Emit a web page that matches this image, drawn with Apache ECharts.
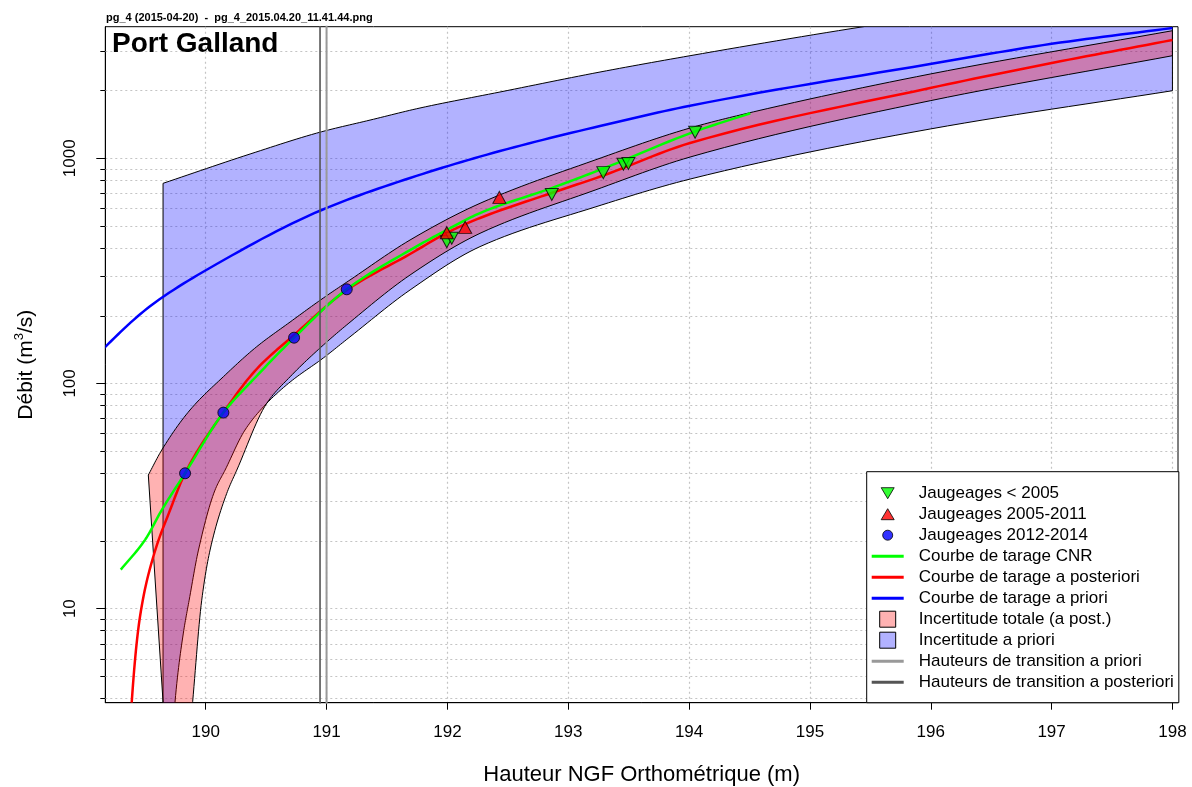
<!DOCTYPE html>
<html><head><meta charset="utf-8">
<script src="https://cdn.jsdelivr.net/npm/echarts@6/dist/echarts.min.js"></script>
<style>html,body{margin:0;padding:0;background:#fff}#c{width:1192px;height:787px}</style>
</head><body><div id="c"></div>
<script>
const FONT = '"Liberation Sans", Arial, Helvetica, sans-serif';

// ---- axes / ticks ----
const xTicks = [190, 191, 192, 193, 194, 195, 196, 197, 198];
const yTicks = [10, 100, 1000];
const yMinorGrid = [4,5,6,7,8,9,20,30,40,50,60,70,80,90,200,300,400,500,600,700,800,900,2000,3000];
const xMin = 189.169, xMax = 198.046, yMin = 3.822, yMax = 3837;

// ---- gaugings (h [m], Q [m3/s]) ----
const gaugingsBefore2005 = [[191.995,426],[192.036,441],[192.864,690],[193.290,863],[193.457,940],[193.498,948],[194.050,1305]];
const gaugings2005_2011 = [[191.995,467],[192.147,493],[192.430,670]];
const gaugings2012_2014 = [[189.829,39.9],[190.146,74.2],[190.731,159.6],[191.167,261.8]];

// ---- rating curves ----
const curveCNR = [[189.297,14.9],[189.498,20.2],[189.636,27.4],[189.829,39.9],[190.146,74.2],[190.422,107.9],[190.731,159.6],[191.167,261.8],[191.691,391],[191.994,480],[192.270,571],[192.863,737],[193.290,900],[194.050,1315],[194.507,1583]];
const curvePosterior = [[189.365,2.14],[189.388,3.86],[189.456,9.2],[189.566,17.0],[189.705,27.4],[189.829,39.9],[190.146,74.2],[190.422,115.9],[190.731,164],[191.167,259.8],[191.691,375.5],[191.994,465.6],[192.270,542.7],[192.863,701],[193.290,838],[194.008,1168],[195.995,2050],[197.001,2647],[198.0,3349]];
const curvePrior = [[189.1,133],[189.167,145],[189.539,220],[190.091,339],[190.960,589],[191.691,817],[192.435,1076],[193.263,1390],[194.008,1710],[195.995,2620],[197.0,3220],[198.0,3786]];

// ---- uncertainty envelopes ----
const postUpper = [[189.525,39.2],[189.636,50.6],[189.870,76.2],[190.146,107.1],[190.422,145.6],[190.698,187.3],[190.973,239.4],[191.194,288],[191.691,433.4],[192.270,630.6],[193.222,982],[194.008,1362],[194.422,1555],[195.995,2365],[198.0,3683]];
const postLower = [[189.753,0.51],[189.892,3.86],[189.967,10.9],[190.036,18.2],[190.174,32.5],[190.257,41.2],[190.505,81.6],[190.698,107],[190.973,148],[191.194,187],[191.691,303],[192.270,464],[193.222,722],[194.008,1012],[195.995,1800],[198.0,2852]];
const priorUpper = [[189.647,773.6],[190.367,1044],[190.960,1311],[191.360,1477],[191.773,1671],[192.435,1968],[193.263,2414],[194.008,2852],[195.442,3837],[198.0,6085]];
const priorLower = [[189.647,0.5],[189.700,1.5],[189.746,3.85],[189.815,7.79],[189.863,10.9],[189.940,18.2],[190.077,33.6],[190.160,41.2],[190.325,62.1],[190.505,81.6],[190.698,101.4],[190.973,129.7],[191.194,161],[191.691,260],[192.270,405],[193.222,607],[194.008,808],[195.995,1348],[198.0,1994]];

// ---- transition heights ----
const transitionPrior = [191.0];
const transitionPosterior = [190.946];

const TRI_DOWN = 'path://M0,0M16,16M1.5,2.5L14.5,2.5L8,13.5Z';
const TRI_UP = 'path://M0,0M16,16M8,2.5L14.5,13.5L1.5,13.5Z';
const CIRCLE = 'path://M0,0M16,16M3,8A5,5,0,1,1,13,8A5,5,0,1,1,3,8Z';
const LINE = 'path://M0,0L32,0L32,3L0,3Z';
const SQUARE = 'path://M0,0L16,0L16,16L0,16Z';

// monotone cubic smoothing of an already-projected pixel polyline (render-time only)
function smoothPx(pts, n) {
  const m = pts.length;
  if (m < 3) return pts.slice();
  const dx = [], s = [], t = [];
  for (let i = 0; i < m - 1; i++) {
    dx[i] = pts[i + 1][0] - pts[i][0];
    s[i] = (pts[i + 1][1] - pts[i][1]) / dx[i];
  }
  t[0] = s[0]; t[m - 1] = s[m - 2];
  for (let i = 1; i < m - 1; i++) {
    if (s[i - 1] * s[i] <= 0) t[i] = 0;
    else {
      const w1 = 2 * dx[i] + dx[i - 1], w2 = dx[i] + 2 * dx[i - 1];
      t[i] = (w1 + w2) / (w1 / s[i - 1] + w2 / s[i]);
    }
  }
  const out = [];
  for (let i = 0; i < m - 1; i++) {
    const x0 = pts[i][0], y0 = pts[i][1], y1 = pts[i + 1][1], h = dx[i];
    for (let k = 0; k < n; k++) {
      const u = k / n, u2 = u * u, u3 = u2 * u;
      const h00 = 2 * u3 - 3 * u2 + 1, h10 = u3 - 2 * u2 + u, h01 = -2 * u3 + 3 * u2, h11 = u3 - u2;
      out.push([x0 + u * h, h00 * y0 + h10 * h * t[i] + h01 * y1 + h11 * h * t[i + 1]]);
    }
  }
  out.push(pts[m - 1].slice());
  return out;
}

function clipRect(cs) {
  return { type: 'rect', shape: { x: cs.x, y: cs.y, width: cs.width, height: cs.height } };
}

function bandSeries(name, upper, lower, fill) {
  const verts = upper.concat(lower.slice().reverse());
  return {
    name, type: 'custom', clip: true, silent: true,
    itemStyle: { color: fill, borderColor: '#000', borderWidth: 1 },
    data: verts,
    encode: { x: 0, y: 1 },
    renderItem(params, api) {
      if (params.dataIndex !== 0) return null;
      const up = smoothPx(upper.map(p => api.coord(p)), 14);
      const lo = smoothPx(lower.map(p => api.coord(p)), 14);
      return {
        type: 'polygon',
        shape: { points: up.concat(lo.reverse()) },
        style: { fill: fill, stroke: '#000', lineWidth: 1 },
        clipPath: clipRect(params.coordSys)
      };
    }
  };
}

function curve(name, data, color) {
  return {
    name, type: 'custom', clip: true, silent: true,
    itemStyle: { color },
    data: data,
    encode: { x: 0, y: 1 },
    renderItem(params, api) {
      if (params.dataIndex !== 0) return null;
      const pts = smoothPx(data.map(p => api.coord(p)), 14);
      return {
        type: 'polyline',
        shape: { points: pts },
        style: { fill: 'none', stroke: color, lineWidth: 2.5, lineJoin: 'round' },
        clipPath: clipRect(params.coordSys)
      };
    }
  };
}

function vline(name, xs, color, width) {
  return {
    name, type: 'line', symbol: 'none', silent: true, clip: true,
    data: [[xs[0], 1], [xs[0], 100000]],
    itemStyle: { color }, lineStyle: { color, width }
  };
}

const isNear = (v, arr) => arr.some(t => Math.abs(v - t) < 1e-6 * Math.max(1, t));

const chart = echarts.init(document.getElementById('c'), null, { renderer: 'canvas' });
chart.setOption({
  animation: false,
  backgroundColor: '#fff',
  textStyle: { fontFamily: FONT },
  title: [
    { text: 'pg_4 (2015-04-20)  -  pg_4_2015.04.20_11.41.44.png', left: 106, top: 12, padding: 0,
      textStyle: { fontSize: 11, fontWeight: 'bold', color: '#000', fontFamily: FONT } },
    { text: 'Port Galland', left: 112, top: 30, padding: 0,
      textStyle: { fontSize: 28, fontWeight: 'bold', color: '#000', fontFamily: FONT } }
  ],
  grid: { left: 105.3, right: 14, top: 26.7, bottom: 84.3, containLabel: false, outerBoundsMode: 'none',
          show: true, borderColor: '#000', borderWidth: 1, backgroundColor: 'transparent' },
  xAxis: {
    type: 'value', min: xMin, max: xMax, splitNumber: 9,
    name: 'Hauteur NGF Orthométrique (m)', nameLocation: 'middle', nameGap: 61,
    nameTextStyle: { fontSize: 22, color: '#000', fontFamily: FONT },
    axisLine: { show: true, onZero: false, lineStyle: { color: '#000', width: 1 } },
    axisTick: { show: true, length: 7, customValues: xTicks, lineStyle: { color: '#000' } },
    axisLabel: { show: true, customValues: xTicks, margin: 21, fontSize: 17, color: '#000', fontFamily: FONT,
      formatter: v => isNear(v, xTicks) ? String(Math.round(v)) : '' },
    splitLine: { show: true, lineStyle: { color: '#c4c4c4', width: 1.2, type: [2, 3] } }
  },
  yAxis: {
    type: 'log', logBase: 10, min: yMin, max: yMax,
    name: '{a|Débit (m}{s|3}{a|/s)}', nameLocation: 'middle', nameGap: 66,
    nameTextStyle: { color: '#000', fontFamily: FONT,
      rich: { a: { fontSize: 21, color: '#000', fontFamily: FONT, lineHeight: 26 },
              s: { fontSize: 13, color: '#000', fontFamily: FONT, verticalAlign: 'top', lineHeight: 16 } } },
    axisLine: { show: true, onZero: false, lineStyle: { color: '#000', width: 1 } },
    axisTick: { show: true, length: 9, customValues: yTicks, lineStyle: { color: '#000' } },
    axisLabel: { show: true, rotate: 90, customValues: yTicks, margin: 26, fontSize: 17, color: '#000', fontFamily: FONT,
      formatter: v => isNear(v, yTicks) ? String(Math.round(v)) : '' },
    splitLine: { show: true, lineStyle: { color: '#c4c4c4', width: 1.2, type: [2, 3] } }
  },
  legend: {
    left: 866.7, top: 471.7, orient: 'vertical', selectedMode: false,
    itemWidth: 32, itemHeight: 16, itemGap: 4, symbolKeepAspect: true,
    padding: [13, 5, 12, 5], borderColor: '#000', borderWidth: 1, borderRadius: 0, backgroundColor: '#fff',
    textStyle: { fontSize: 17, color: '#000', fontFamily: FONT,
      rich: { t: { fontSize: 17, color: '#000', fontFamily: FONT, padding: [0, 0, 0, 10] } } },
    formatter: name => '{t|' + name + '}',
    data: [
      { name: 'Jaugeages < 2005', icon: TRI_DOWN, itemStyle: { color: '#00ff00', borderColor: '#000', borderWidth: 1 } },
      { name: 'Jaugeages 2005-2011', icon: TRI_UP, itemStyle: { color: '#ff0000', borderColor: '#000', borderWidth: 1 } },
      { name: 'Jaugeages 2012-2014', icon: CIRCLE, itemStyle: { color: '#0000ff', borderColor: '#000', borderWidth: 1 } },
      { name: 'Courbe de tarage CNR', icon: LINE, itemStyle: { color: '#00ff00', borderWidth: 0 } },
      { name: 'Courbe de tarage a posteriori', icon: LINE, itemStyle: { color: '#ff0000', borderWidth: 0 } },
      { name: 'Courbe de tarage a priori', icon: LINE, itemStyle: { color: '#0000ff', borderWidth: 0 } },
      { name: 'Incertitude totale (a post.)', icon: SQUARE, itemStyle: { color: 'rgba(255,0,0,0.3)', borderColor: '#000', borderWidth: 1 } },
      { name: 'Incertitude a priori', icon: SQUARE, itemStyle: { color: 'rgba(0,0,255,0.3)', borderColor: '#000', borderWidth: 1 } },
      { name: 'Hauteurs de transition a priori', icon: LINE, itemStyle: { color: '#999999', borderWidth: 0 } },
      { name: 'Hauteurs de transition a posteriori', icon: LINE, itemStyle: { color: '#555555', borderWidth: 0 } }
    ]
  },
  series: [
    {
      type: 'custom', silent: true, clip: false, z: 1,
      data: yMinorGrid.map(v => [xMin, v]),
      encode: { x: 0, y: 1 },
      renderItem(params, api) {
        const cs = params.coordSys;
        const p = api.coord([api.value(0), api.value(1)]);
        const y = Math.round(p[1]) + 0.5;
        return { type: 'group', children: [
          { type: 'line', shape: { x1: cs.x, y1: y, x2: cs.x + cs.width, y2: y }, style: { stroke: '#c4c4c4', lineWidth: 1.2, lineDash: [2, 3] } },
          { type: 'line', shape: { x1: cs.x - 5, y1: y, x2: cs.x, y2: y }, style: { stroke: '#000', lineWidth: 1 } }
        ] };
      }
    },
    bandSeries('Incertitude a priori', priorUpper, priorLower, 'rgba(0,0,255,0.3)'),
    bandSeries('Incertitude totale (a post.)', postUpper, postLower, 'rgba(255,0,0,0.3)'),
    vline('Hauteurs de transition a priori', transitionPrior, '#999999', 2),
    vline('Hauteurs de transition a posteriori', transitionPosterior, '#555555', 1.6),
    curve('Courbe de tarage a priori', curvePrior, '#0000ff'),
    curve('Courbe de tarage a posteriori', curvePosterior, '#ff0000'),
    curve('Courbe de tarage CNR', curveCNR, '#00ff00'),
    { name: 'Jaugeages < 2005', type: 'scatter', data: gaugingsBefore2005, symbol: 'triangle', symbolRotate: 180, symbolSize: [13, 12],
      itemStyle: { color: '#00ff00', borderColor: '#000', borderWidth: 1 }, silent: true },
    { name: 'Jaugeages 2005-2011', type: 'scatter', data: gaugings2005_2011, symbol: 'triangle', symbolSize: [13, 12],
      itemStyle: { color: '#ff0000', borderColor: '#000', borderWidth: 1 }, silent: true },
    { name: 'Jaugeages 2012-2014', type: 'scatter', data: gaugings2012_2014, symbol: 'circle', symbolSize: 11,
      itemStyle: { color: '#0000ff', borderColor: '#000', borderWidth: 1 }, silent: true }
  ]
});
</script>
</body></html>
